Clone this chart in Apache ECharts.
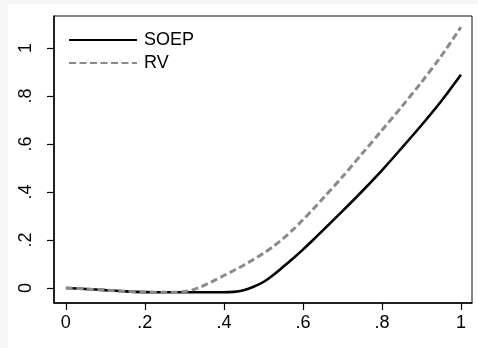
<!DOCTYPE html>
<html>
<head>
<meta charset="utf-8">
<script src="https://cdn.jsdelivr.net/npm/echarts@6/dist/echarts.min.js"></script>
<style>
  html, body { margin: 0; padding: 0; background: #f6f6f6; }
  #chart { width: 478px; height: 348px; }
</style>
</head>
<body>
<div id="chart"></div>
<script>
// Share (x) and estimated curves for the two data sources
const shares = [0, 0.05, 0.1, 0.15, 0.2, 0.25, 0.275, 0.3, 0.325, 0.35, 0.375, 0.4, 0.425, 0.45, 0.475, 0.5,
                0.525, 0.55, 0.575, 0.6, 0.625, 0.65, 0.7, 0.75, 0.8, 0.85, 0.9, 0.95, 1.0];
const soep = [0.000, -0.004, -0.009, -0.014, -0.017, -0.018, -0.018, -0.018, -0.018, -0.018, -0.018, -0.018, -0.016, -0.009, 0.005, 0.025,
              0.054, 0.088, 0.123, 0.160, 0.199, 0.239, 0.320, 0.403, 0.490, 0.583, 0.678, 0.778, 0.888];
const rv   = [0.000, -0.004, -0.009, -0.014, -0.017, -0.018, -0.018, -0.015, -0.006, 0.011, 0.031, 0.052, 0.073, 0.095, 0.119, 0.144,
              0.173, 0.206, 0.243, 0.284, 0.327, 0.372, 0.463, 0.560, 0.657, 0.755, 0.857, 0.966, 1.087];
const tickValues = [0, 0.2, 0.4, 0.6, 0.8, 1];
const seriesNames = ['SOEP', 'RV'];

const fmt = v => {
  if (v === 0) return '0';
  if (v === 1) return '1';
  return v.toFixed(1).replace(/^0/, '');
};

const font = 'Liberation Sans, Arial, Helvetica, sans-serif';
const chart = echarts.init(document.getElementById('chart'), null, { renderer: 'canvas' });

chart.setOption({
  backgroundColor: 'transparent',
  animation: false,
  graphic: [{
    type: 'rect', z: -10, silent: true,
    shape: { x: 8, y: 4, width: 470, height: 344 },
    style: { fill: '#ffffff' }
  }],
  grid: { left: 54, top: 16, right: 6, bottom: 45, show: true, borderColor: '#111', borderWidth: 1, backgroundColor: '#ffffff' },
  legend: {
    orient: 'vertical', left: 63, top: 26,
    itemWidth: 68, itemHeight: 14, itemGap: 5,
    itemStyle: { opacity: 0 },
    textStyle: { fontFamily: font, fontSize: 18, lineHeight: 17, color: '#000', padding: [0, 0, 0, 2] },
    data: seriesNames
  },
  xAxis: {
    type: 'value', min: -0.03, max: 1.028,
    axisLine: { show: true, onZero: false, lineStyle: { color: '#000', width: 1.5 } },
    axisTick: { show: true, inside: false, length: 7, customValues: tickValues, lineStyle: { color: '#000', width: 1.2 } },
    axisLabel: { customValues: tickValues, formatter: fmt, margin: 11, fontFamily: font, fontSize: 18, color: '#000' },
    splitLine: { show: false }
  },
  yAxis: {
    type: 'value', min: -0.0625, max: 1.133,
    axisLine: { show: true, onZero: false, lineStyle: { color: '#000', width: 1.5 } },
    axisTick: { show: true, inside: false, length: 7, customValues: tickValues, lineStyle: { color: '#000', width: 1.2 } },
    axisLabel: { customValues: tickValues, formatter: fmt, rotate: 90, margin: 19, fontFamily: font, fontSize: 18, color: '#000' },
    splitLine: { show: false }
  },
  series: [
    {
      name: seriesNames[0], type: 'line', showSymbol: false, symbol: 'none',
      smooth: 0.3, z: 3,
      lineStyle: { color: '#000', width: 2.6 },
      itemStyle: { color: '#000' },
      data: shares.map((x, i) => [x, soep[i]])
    },
    {
      name: seriesNames[1], type: 'line', showSymbol: false, symbol: 'none',
      smooth: 0.3, z: 4,
      lineStyle: { color: '#8a8a8a', width: 3, type: [7, 3.5] },
      itemStyle: { color: '#8a8a8a' },
      data: shares.map((x, i) => [x, rv[i]])
    }
  ]
});
</script>
</body>
</html>
